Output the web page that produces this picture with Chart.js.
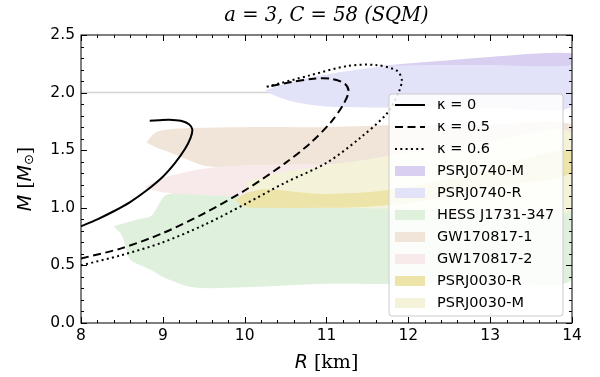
<!DOCTYPE html>
<html>
<head>
<meta charset="utf-8">
<script src="https://cdn.jsdelivr.net/npm/chart.js@4.4.1/dist/chart.umd.min.js"></script>
<style>
  body { margin: 0; background: #fff; }
  canvas { display: block; }
</style>
</head>
<body>
<canvas id="mrChart" width="600" height="377"></canvas>
<script>
// mass-radius curves, [R km, M Msun]
const kappa0 = [[8.0, 0.84], [8.2, 0.9], [8.4, 0.97], [8.6, 1.05], [8.8, 1.15], [9.0, 1.27], [9.15, 1.39], [9.27, 1.51], [9.34, 1.61], [9.36, 1.68], [9.32, 1.725], [9.22, 1.755], [9.08, 1.765], [8.95, 1.76], [8.84, 1.755]];
const kappa05 = [[8.0, 0.56], [8.5, 0.65], [9.0, 0.78], [9.5, 0.95], [10.0, 1.15], [10.5, 1.39], [10.8, 1.56], [11.05, 1.74], [11.2, 1.89], [11.27, 2.01], [11.22, 2.08], [11.05, 2.12], [10.84, 2.12], [10.56, 2.09], [10.27, 2.05]];
const kappa06 = [[8.0, 0.5], [8.5, 0.59], [9.0, 0.7], [9.5, 0.85], [10.0, 1.03], [10.5, 1.22], [11.0, 1.39], [11.4, 1.6], [11.74, 1.82], [11.88, 2.0], [11.92, 2.11], [11.86, 2.19], [11.6, 2.24], [11.25, 2.23], [10.8, 2.15], [10.27, 2.05]];

// observational regions (outline polygons)
const psr0740M = [[11.6, 2.23], [12.3, 2.27], [13.0, 2.31], [14.0, 2.34], [14.0, 2.24], [13.0, 2.24], [12.3, 2.24]];
const psr0740R = [[10.25, 2.02], [10.5, 2.08], [10.8, 2.13], [11.2, 2.18], [11.6, 2.22], [12.2, 2.26], [13.0, 2.28], [14.0, 2.3], [14.0, 1.88], [13.0, 1.87], [12.0, 1.87], [11.0, 1.88], [10.6, 1.92], [10.35, 1.98]];
const hess = [[8.4, 0.84], [8.7, 0.9], [8.86, 0.93], [9.02, 1.1], [9.2, 1.13], [9.9, 1.14], [10.5, 1.12], [11.5, 1.1], [12.5, 1.1], [14.0, 1.1], [14.0, 0.38], [13.0, 0.36], [12.0, 0.34], [11.0, 0.34], [10.0, 0.31], [9.37, 0.31], [9.0, 0.4], [8.86, 0.46], [8.6, 0.55], [8.55, 0.65], [8.5, 0.76]];
const gw1 = [[8.8, 1.57], [8.93, 1.66], [9.3, 1.69], [10.0, 1.7], [11.0, 1.7], [12.0, 1.72], [13.0, 1.72], [14.0, 1.72], [14.0, 1.4], [13.0, 1.38], [12.0, 1.37], [11.0, 1.36], [10.0, 1.35], [9.54, 1.36], [9.3, 1.42], [9.05, 1.49], [8.9, 1.53]];
const gw2 = [[8.78, 1.18], [9.0, 1.26], [9.5, 1.34], [10.0, 1.37], [11.0, 1.38], [12.0, 1.4], [14.0, 1.4], [14.0, 1.15], [12.0, 1.14], [11.0, 1.12], [10.0, 1.1], [9.5, 1.11], [9.05, 1.13], [8.9, 1.15]];
const psr0030R = [[9.88, 1.07], [10.0, 1.12], [10.25, 1.16], [10.6, 1.14], [11.0, 1.12], [11.7, 1.15], [12.5, 1.25], [13.2, 1.38], [14.0, 1.5], [14.0, 1.3], [13.0, 1.18], [12.2, 1.06], [11.5, 1.01], [11.0, 1.0], [10.3, 1.0], [10.0, 1.01]];
const psr0030M = [[10.0, 1.22], [10.4, 1.3], [11.0, 1.37], [11.5, 1.42], [12.0, 1.48], [13.0, 1.58], [14.0, 1.65], [14.0, 0.98], [13.0, 0.98], [12.0, 0.99], [11.0, 1.0], [10.3, 1.02], [10.1, 1.08]];
const refLine = [[8, 2.0], [14, 2.0]];

const regionNames = ['PSRJ0740-M', 'PSRJ0740-R', 'HESS J1731-347', 'GW170817-1', 'GW170817-2', 'PSRJ0030-R', 'PSRJ0030-M'];
const regionColors = ['#d9cff1', '#e2e2f8', '#dff1dd', '#f1e4d8', '#f8eaea', '#ece4a8', '#f4f3da'];
const regionData = [psr0740M, psr0740R, hess, gw1, gw2, psr0030R, psr0030M];
const curveNames = ['κ = 0', 'κ = 0.5', 'κ = 0.6'];
const xTicks = [8, 9, 10, 11, 12, 13, 14];
const yTicks = [0, 0.5, 1.0, 1.5, 2.0, 2.5];

const pts = arr => arr.map(p => ({ x: p[0], y: p[1] }));
const closed = arr => pts(arr.concat([arr[0]]));

const curveStyles = [[], [8, 4.5], [2, 3.3]];
const datasets = [];
// curves first so they end up on top
[kappa0, kappa05, kappa06].forEach((c, i) => {
  datasets.push({
    label: curveNames[i], data: pts(c), showLine: true, borderColor: '#000', borderWidth: 2,
    borderDash: curveStyles[i], pointRadius: 0, tension: 0.3, fill: false
  });
});
// regions, last drawn one (first in list) at the bottom
const drawOrder = [5, 6, 4, 3, 2, 0, 1];
drawOrder.forEach(i => {
  datasets.push({
    label: regionNames[i], data: closed(regionData[i]), showLine: true, borderWidth: 0,
    borderColor: 'rgba(0,0,0,0)', backgroundColor: regionColors[i], fill: 'shape',
    pointRadius: 0, tension: 0.3
  });
});
datasets.push({ label: 'M=2', data: pts(refLine), showLine: true, borderColor: '#d3d3d3', borderWidth: 1.5, pointRadius: 0, fill: false });

function drawRuns(c, runs, x, y) {
  let w = 0;
  runs.forEach(r => { c.font = r.font; w += c.measureText(r.t).width; });
  let cx = x - w / 2;
  runs.forEach(r => {
    c.font = r.font;
    c.fillText(r.t, cx, y + (r.dy || 0));
    cx += c.measureText(r.t).width;
  });
}

const decor = {
  id: 'decor',
  afterDatasetsDraw(chart) {
    const c = chart.ctx, a = chart.chartArea;
    const xs = chart.scales.x, ys = chart.scales.y;
    c.save();
    // legend box
    const lx = 389, ly = 94, lw = 174, lh = 222;
    c.beginPath();
    c.roundRect(lx, ly, lw, lh, 3);
    c.fillStyle = 'rgba(255,255,255,0.85)';
    c.fill();
    c.strokeStyle = '#cccccc';
    c.lineWidth = 1;
    c.stroke();
    c.font = '14.5px "DejaVu Sans"';
    c.textBaseline = 'middle';
    c.textAlign = 'left';
    const rows = curveNames.length + regionNames.length;
    for (let i = 0; i < rows; i++) {
      const yy = 105 + i * 22;
      if (i < 3) {
        c.beginPath();
        c.setLineDash(curveStyles[i]);
        c.strokeStyle = '#000';
        c.lineWidth = 2;
        c.moveTo(395, yy);
        c.lineTo(425, yy);
        c.stroke();
        c.setLineDash([]);
        c.fillStyle = '#000';
        c.fillText(curveNames[i], 437, yy);
      } else {
        c.fillStyle = regionColors[i - 3];
        c.fillRect(395, yy - 5, 30, 10);
        c.fillStyle = '#000';
        c.fillText(regionNames[i - 3], 437, yy);
      }
    }
    // frame and inward ticks
    c.strokeStyle = '#000';
    c.lineWidth = 1;
    c.strokeRect(a.left, a.top, a.right - a.left, a.bottom - a.top);
    c.beginPath();
    for (let v = 8; v <= 14.001; v += 0.2) {
      const major = Math.abs(v - Math.round(v)) < 1e-6;
      const px = Math.round(xs.getPixelForValue(v)) + 0.5;
      const len = major ? 6 : 3;
      c.moveTo(px, a.bottom); c.lineTo(px, a.bottom - len);
      c.moveTo(px, a.top); c.lineTo(px, a.top + len);
    }
    for (let v = 0; v <= 2.5001; v += 0.1) {
      const major = Math.abs(v * 2 - Math.round(v * 2)) < 1e-6;
      const py = Math.round(ys.getPixelForValue(v)) + 0.5;
      const len = major ? 6 : 3;
      c.moveTo(a.left, py); c.lineTo(a.left + len, py);
      c.moveTo(a.right, py); c.lineTo(a.right - len, py);
    }
    c.stroke();
    // title and axis titles
    c.fillStyle = '#000';
    c.textBaseline = 'middle';
    c.textAlign = 'left';
    const cxm = (a.left + a.right) / 2;
    drawRuns(c, [{ t: 'a = 3, C = 58 (SQM)', font: 'italic 19.5px "DejaVu Serif"' }], cxm, 16);
    drawRuns(c, [
      { t: 'R', font: 'oblique 19px "DejaVu Sans"' },
      { t: ' [km]', font: '19px "DejaVu Serif"' }
    ], cxm, 363);
    c.translate(26, (a.top + a.bottom) / 2);
    c.rotate(-Math.PI / 2);
    drawRuns(c, [
      { t: 'M', font: 'oblique 19px "DejaVu Sans"' },
      { t: ' [', font: '19px "DejaVu Serif"' },
      { t: 'M', font: 'oblique 19px "DejaVu Sans"' },
      { t: '⊙', font: '13px "DejaVu Sans"', dy: 4 },
      { t: ']', font: '19px "DejaVu Serif"' }
    ], 0, 0);
    c.restore();
  }
};

new Chart(document.getElementById('mrChart'), {
  type: 'scatter',
  data: { datasets: datasets },
  options: {
    responsive: false,
    animation: false,
    layout: { padding: { top: 35, right: 28, left: 0, bottom: 0 } },
    plugins: { legend: { display: false }, tooltip: { enabled: false } },
    scales: {
      x: {
        min: 8, max: 14,
        afterBuildTicks: s => { s.ticks = xTicks.map(v => ({ value: v })); },
        ticks: { color: '#000', font: { family: 'DejaVu Sans', size: 15.5 }, padding: 4, maxRotation: 0, callback: v => String(v) },
        grid: { display: false, drawTicks: false },
        border: { display: false },
        afterFit: s => { s.height = 54; }
      },
      y: {
        min: 0, max: 2.5,
        afterBuildTicks: s => { s.ticks = yTicks.map(v => ({ value: v })); },
        ticks: { color: '#000', font: { family: 'DejaVu Sans', size: 15.5 }, padding: 6, callback: v => v.toFixed(1) },
        grid: { display: false, drawTicks: false },
        border: { display: false },
        afterFit: s => { s.width = 81; }
      }
    }
  },
  plugins: [decor]
});
</script>
</body>
</html>
